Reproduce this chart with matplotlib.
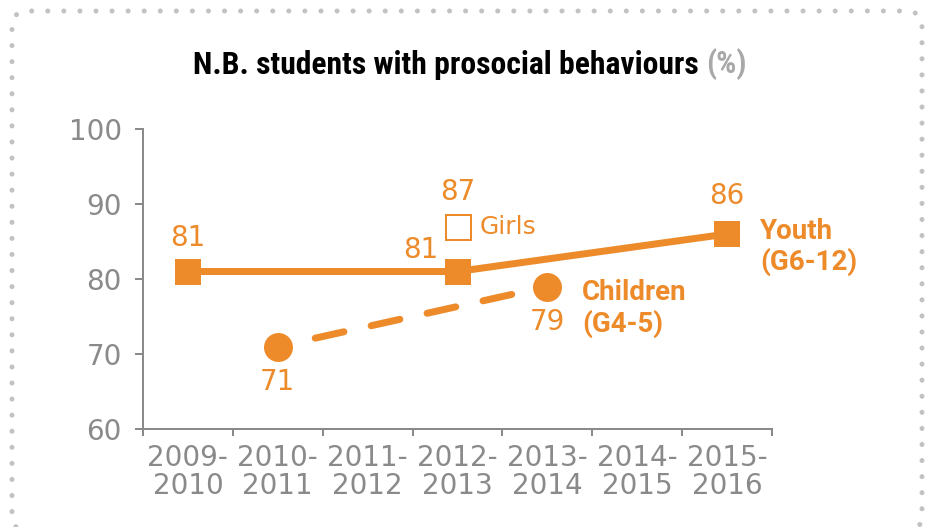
import matplotlib
matplotlib.use("Agg")
import matplotlib.pyplot as plt
from matplotlib.patches import FancyBboxPatch
from matplotlib.transforms import IdentityTransform

plt.rcParams["lines.scale_dashes"] = False

# --- data ---
periods = ["2009-\n2010", "2010-\n2011", "2011-\n2012", "2012-\n2013",
           "2013-\n2014", "2014-\n2015", "2015-\n2016"]
youth_idx = [0, 3, 6]
youth_val = [81, 81, 86]
children_idx = [1, 4]
children_val = [71, 79]
girls_idx = [3]
girls_val = [87]

ORANGE = "#ED8B2B"
GRAY = "#8A8A8A"
PX = 0.72  # points per pixel at dpi 100
NUM_FONT = "DejaVu Sans"
NUM_WEIGHT = "normal"
TITLE_FONT = ["Roboto Condensed", "Liberation Sans Narrow", "Roboto"]

fig = plt.figure(figsize=(9.32, 5.27), dpi=100)
ax = fig.add_axes([143 / 932, 1 - 429 / 527, (772 - 143) / 932, 300 / 527])

# dotted frame
frame = FancyBboxPatch((12, -4), 910, 520, boxstyle="round,pad=0,rounding_size=16",
                       transform=IdentityTransform(), fill=False, ec="#C2C2C2",
                       lw=5 * PX, ls=(0, (0.05, 16 * PX)), capstyle="round")
frame.set_clip_on(False)
fig.add_artist(frame)

# youth line
ax.plot(youth_idx, youth_val, color=ORANGE, lw=7 * PX, marker="s",
        ms=27 * PX, mew=0, solid_capstyle="butt", zorder=3)
# children dashed line (gap at both ends, the tiny first dash sits under the marker)
dash_px = (0.05, 38.3, 29.4, 27.9, 29.4, 27.9, 29.4, 27.9, 29.4, 300)
ax.plot(children_idx, children_val, color=ORANGE, lw=7 * PX,
        ls=(0, tuple(d * PX for d in dash_px)), dash_capstyle="round", zorder=3)
ax.plot(children_idx, children_val, color=ORANGE, lw=0, marker="o",
        ms=29 * PX, mew=0, zorder=4)
# girls
ax.plot(girls_idx, girls_val, color=ORANGE, lw=0, marker="s", ms=25 * PX,
        mfc="white", mec=ORANGE, mew=2 * PX, zorder=4)

lab_kw = dict(textcoords="offset points", color=ORANGE, fontsize=20,
              fontfamily=NUM_FONT, fontweight=NUM_WEIGHT, ha="center", va="center")
ax.annotate(str(youth_val[0]), (youth_idx[0], youth_val[0]), xytext=(0, 34 * PX), **lab_kw)
ax.annotate(str(youth_val[1]), (youth_idx[1], youth_val[1]), xytext=(-37 * PX, 22 * PX), **lab_kw)
ax.annotate(str(youth_val[2]), (youth_idx[2], youth_val[2]), xytext=(0, 38 * PX), **lab_kw)
ax.annotate(str(girls_val[0]), (girls_idx[0], girls_val[0]), xytext=(0, 35 * PX), **lab_kw)
ax.annotate(str(children_val[0]), (children_idx[0], children_val[0]), xytext=(0, -35 * PX), **lab_kw)
ax.annotate(str(children_val[1]), (children_idx[1], children_val[1]), xytext=(0, -35 * PX), **lab_kw)
ax.annotate("Girls", (girls_idx[0], girls_val[0]), xytext=(22 * PX, 0),
            **{**lab_kw, "ha": "left", "fontsize": 18})

ser_kw = dict(textcoords="offset points", color=ORANGE, fontsize=20,
              fontfamily="Roboto", fontweight="bold", ha="left", va="center",
              linespacing=1.15)
ax.annotate("Children\n(G4-5)", (children_idx[1], children_val[1]),
            xytext=(35 * PX, -22 * PX), **ser_kw)
ax.annotate("Youth\n(G6-12)", (youth_idx[2], youth_val[2]),
            xytext=(33 * PX, -13 * PX), **ser_kw)

# axes styling
ax.set_xlim(-0.5, 6.5)
ax.set_ylim(60, 100)
ax.set_yticks([60, 70, 80, 90, 100])
ax.set_xticks(range(len(periods)))
ax.set_xticklabels(periods, linespacing=1.0)
ax.set_xticks([i - 0.5 for i in range(len(periods) + 1)], minor=True)
for s in ["top", "right"]:
    ax.spines[s].set_visible(False)
for s in ["left", "bottom"]:
    ax.spines[s].set_color(GRAY)
    ax.spines[s].set_linewidth(2 * PX)
ax.tick_params(axis="y", length=8 * PX, width=2 * PX, color=GRAY, pad=13 * PX,
               labelsize=20, labelcolor=GRAY)
ax.tick_params(axis="x", which="major", length=0, pad=15 * PX, labelsize=20,
               labelcolor=GRAY)
ax.tick_params(axis="x", which="minor", length=7 * PX, width=2 * PX, color=GRAY)
for t in ax.get_xticklabels() + ax.get_yticklabels():
    t.set_fontfamily(NUM_FONT)
    t.set_fontweight(NUM_WEIGHT)

# title
title = fig.text(193 / 932, 1 - 74 / 527, "N.B. students with prosocial behaviours ",
                 fontsize=22.8, fontweight="bold", fontfamily=TITLE_FONT,
                 ha="left", va="baseline", color="black")
ax.annotate("(%)", xy=(1, 0), xycoords=title, va="bottom", ha="left",
            fontsize=22.8, fontweight="bold", fontfamily=TITLE_FONT,
            color="#A8A8A8", annotation_clip=False)

fig.savefig("out.png", dpi=100)
